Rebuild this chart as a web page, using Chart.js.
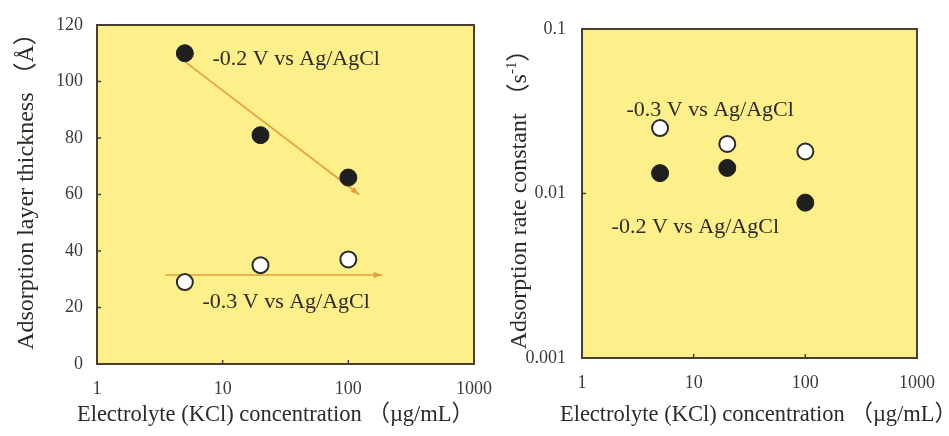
<!DOCTYPE html>
<html>
<head>
<meta charset="utf-8">
<script src="https://cdn.jsdelivr.net/npm/chart.js@4/dist/chart.umd.min.js"></script>
<style>
body { margin: 0; background: #fff; }
#wrap { position: relative; width: 949px; height: 436px; }
#wrap canvas { position: absolute; left: 0; top: 0; }
</style>
</head>
<body>
<div id="wrap">
	<canvas id="thickChart" width="949" height="436"></canvas>
	<canvas id="rateChart" width="949" height="436"></canvas>
</div>
<script>
var concentration = [5, 20, 100];          // KCl, ug/mL
var thickness02 = [110, 81, 66];           // -0.2 V, angstrom
var thickness03 = [29, 35, 37];            // -0.3 V, angstrom
var rate02 = [0.0133, 0.0143, 0.0088];     // -0.2 V, 1/s
var rate03 = [0.025, 0.020, 0.018];        // -0.3 V, 1/s

// guide arrows on the thickness plot: start and end points
var guide02 = [{x: 5, y: 107}, {x: 122, y: 60}];
var guide03 = [{x: 3.5, y: 31.5}, {x: 186, y: 31.5}];

var decadeTicks = [1, 10, 100, 1000];
var thickTicks = [0, 20, 40, 60, 80, 100, 120];
var rateTicks = [0.001, 0.01, 0.1];

var SERIF = "'Liberation Serif', 'Times New Roman', 'Noto Sans CJK JP', serif";
var INK = '#2e2a25';
var TICK_INK = '#3d3a35';
var PANEL = '#fdef8a';
var ARROW = '#e3a13c';

function pts(xs, ys) {
	return xs.map(function(x, i) { return {x: x, y: ys[i]}; });
}

function fixTicks(values) {
	return function(scale) {
		scale.ticks = values.map(function(v) { return {value: v}; });
	};
}

// text made of pieces, some of them raised as superscript
function drawPieces(ctx, pieces, size) {
	var widths = pieces.map(function(p) {
		ctx.font = (p.sup ? size * 0.62 : size) + 'px ' + SERIF;
		return ctx.measureText(p.text).width;
	});
	var total = widths.reduce(function(s, w) { return s + w; }, 0);
	var x = -total / 2;
	ctx.textAlign = 'left';
	pieces.forEach(function(p, i) {
		ctx.font = (p.sup ? size * 0.62 : size) + 'px ' + SERIF;
		ctx.fillText(p.text, x, p.sup ? -size * 0.35 : 0);
		x += widths[i];
	});
}

// yellow panel, frame, inward ticks, arrowheads, notes and axis titles
var figurePlugin = {
	id: 'figure',
	beforeDatasetsDraw: function(chart) {
		var a = chart.chartArea, ctx = chart.ctx;
		ctx.save();
		ctx.fillStyle = PANEL;
		ctx.fillRect(a.left, a.top, a.right - a.left, a.bottom - a.top);
		ctx.restore();
	},
	afterDatasetsDraw: function(chart, args, opts) {
		var a = chart.chartArea, ctx = chart.ctx;
		var xs = chart.scales.x, ys = chart.scales.y;
		ctx.save();

		// arrowheads at the end of guide lines
		chart.data.datasets.forEach(function(ds, i) {
			if (!ds.arrow) return;
			var el = chart.getDatasetMeta(i).data;
			var p1 = el[el.length - 2], p2 = el[el.length - 1];
			var ang = Math.atan2(p2.y - p1.y, p2.x - p1.x);
			ctx.fillStyle = ds.borderColor;
			ctx.beginPath();
			ctx.moveTo(p2.x, p2.y);
			ctx.lineTo(p2.x - 9 * Math.cos(ang - 0.35), p2.y - 9 * Math.sin(ang - 0.35));
			ctx.lineTo(p2.x - 9 * Math.cos(ang + 0.35), p2.y - 9 * Math.sin(ang + 0.35));
			ctx.closePath();
			ctx.fill();
		});

		// frame
		ctx.strokeStyle = '#4a3f2e';
		ctx.lineWidth = 2;
		ctx.strokeRect(a.left, a.top, a.right - a.left, a.bottom - a.top);

		// small inward tick marks
		ctx.lineWidth = 1.5;
		ctx.beginPath();
		ys.ticks.forEach(function(t) {
			var py = ys.getPixelForValue(t.value);
			ctx.moveTo(a.left, py); ctx.lineTo(a.left + 4, py);
		});
		xs.ticks.forEach(function(t) {
			var px = xs.getPixelForValue(t.value);
			ctx.moveTo(px, a.bottom); ctx.lineTo(px, a.bottom - 4);
		});
		ctx.stroke();

		// series notes, anchored in data coordinates
		ctx.fillStyle = INK;
		ctx.font = '22px ' + SERIF;
		ctx.textAlign = 'left';
		ctx.textBaseline = 'middle';
		opts.notes.forEach(function(n) {
			ctx.fillText(n.text, xs.getPixelForValue(n.x), ys.getPixelForValue(n.y));
		});

		// axis titles
		ctx.save();
		ctx.translate((a.left + a.right) / 2 + opts.xShift, a.bottom + opts.xGap);
		drawPieces(ctx, opts.xTitle, 22.5);
		ctx.restore();
		ctx.translate(a.left - opts.yGap, (a.top + a.bottom) / 2 + opts.yShift);
		ctx.rotate(-Math.PI / 2);
		drawPieces(ctx, opts.yTitle, 24);
		ctx.restore();
	}
};

function tickFont() {
	return {family: SERIF, size: 18};
}

function logX(height) {
	return {
		type: 'logarithmic', min: 1, max: 1000,
		afterBuildTicks: fixTicks(decadeTicks),
		afterFit: function(s) { s.height = height; },
		grid: {display: false, drawTicks: false},
		border: {display: false},
		ticks: {
			font: tickFont(), color: TICK_INK, padding: 14, maxRotation: 0, autoSkip: false,
			callback: function(v) { return String(v); }
		}
	};
}

function markerSets(xs, filled, open) {
	return [{
		label: '-0.2 V vs Ag/AgCl', data: pts(xs, filled), order: 1,
		pointRadius: 8.5, pointBackgroundColor: '#1f1f1f', pointBorderColor: '#1f1f1f', pointBorderWidth: 1
	}, {
		label: '-0.3 V vs Ag/AgCl', data: pts(xs, open), order: 1,
		pointRadius: 8, pointBackgroundColor: '#ffffff', pointBorderColor: '#2a2a2a', pointBorderWidth: 2
	}];
}

var xTitle = [{text: 'Electrolyte (KCl) concentration （µg/mL）'}];

function drawThickness() {
	var ctx = document.getElementById('thickChart').getContext('2d');
	var sets = markerSets(concentration, thickness02, thickness03);
	[guide02, guide03].forEach(function(g) {
		sets.push({
			data: g, showLine: true, arrow: true, order: 2,
			borderColor: ARROW, borderWidth: 1.6, pointRadius: 0
		});
	});
	new Chart(ctx, {
		type: 'scatter',
		data: {datasets: sets},
		options: {
			responsive: false, animation: false,
			layout: {padding: {top: 25, right: 475, left: 0, bottom: 0}},
			scales: {
				x: logX(72),
				y: {
					type: 'linear', min: 0, max: 120,
					afterBuildTicks: fixTicks(thickTicks),
					afterFit: function(s) { s.width = 97; },
					grid: {display: false, drawTicks: false},
					border: {display: false},
					ticks: {font: tickFont(), color: TICK_INK, padding: 14}
				}
			},
			plugins: {
				legend: {display: false},
				tooltip: {enabled: false},
				figure: {
					xTitle: xTitle, xGap: 51, xShift: -10,
					yTitle: [{text: 'Adsorption layer thickness （Å）'}], yGap: 70, yShift: -9,
					notes: [
						{text: '-0.2 V vs Ag/AgCl', x: 8.3, y: 108},
						{text: '-0.3 V vs Ag/AgCl', x: 6.9, y: 22}
					]
				}
			}
		},
		plugins: [figurePlugin]
	});
}

function drawRate() {
	var ctx = document.getElementById('rateChart').getContext('2d');
	new Chart(ctx, {
		type: 'scatter',
		data: {datasets: markerSets(concentration, rate02, rate03)},
		options: {
			responsive: false, animation: false,
			layout: {padding: {top: 29, right: 27, left: 0, bottom: 0}},
			scales: {
				x: logX(78),
				y: {
					type: 'logarithmic', min: 0.001, max: 0.1,
					afterBuildTicks: fixTicks(rateTicks),
					afterFit: function(s) { s.width = 582; },
					grid: {display: false, drawTicks: false},
					border: {display: false},
					ticks: {
						font: tickFont(), color: TICK_INK, padding: 16,
						callback: function(v) { return String(v); }
					}
				}
			},
			plugins: {
				legend: {display: false},
				tooltip: {enabled: false},
				figure: {
					xTitle: xTitle, xGap: 57, xShift: 9,
					yTitle: [
						{text: 'Adsorption rate constant （s'},
						{text: '-1', sup: true},
						{text: '）'}
					],
					yGap: 62, yShift: 0,
					notes: [
						{text: '-0.3 V vs Ag/AgCl', x: 2.5, y: 0.032},
						{text: '-0.2 V vs Ag/AgCl', x: 1.84, y: 0.0062}
					]
				}
			}
		},
		plugins: [figurePlugin]
	});
}

window.onload = function() {
	drawThickness();
	drawRate();
};
</script>
</body>
</html>
